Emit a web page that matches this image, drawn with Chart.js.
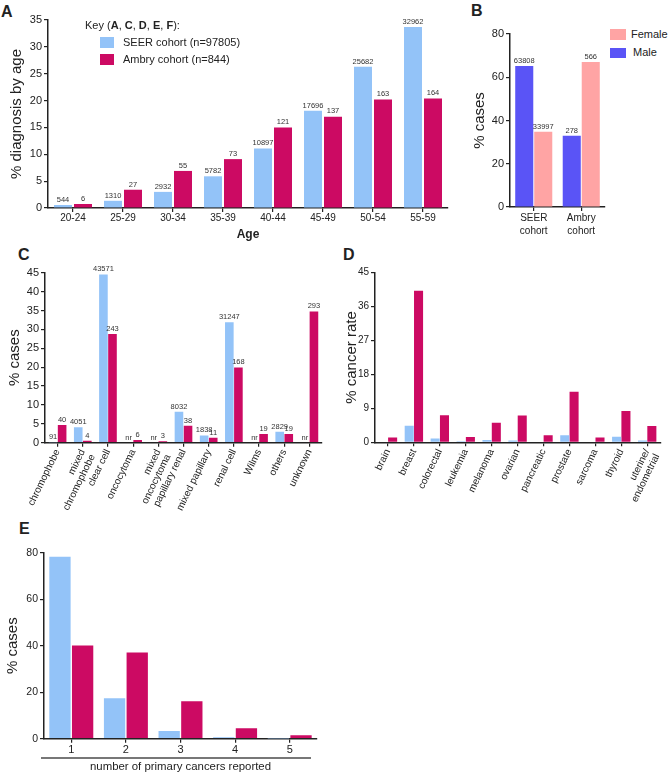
<!DOCTYPE html>
<html>
<head>
<meta charset="utf-8">
<script src="https://cdn.jsdelivr.net/npm/chart.js@4/dist/chart.umd.min.js"></script>
<style>
  body { margin: 0; background: #fff; }
  #fig { position: relative; width: 668px; height: 775px; font-family: 'Liberation Sans', Arial, sans-serif; color: #222; }
  #fig canvas { position: absolute; }
  .pl { position: absolute; font-weight: bold; font-size: 16px; line-height: 16px; }
  .key { position: absolute; font-size: 11px; line-height: 13px; display: flex; align-items: center; white-space: nowrap; }
  .sw { display: inline-block; margin-right: 9px; }
</style>
</head>
<body>
<div id="fig">
  <div class="pl" style="left:1px;top:4px">A</div>
  <div class="pl" style="left:471px;top:3px">B</div>
  <div class="pl" style="left:18px;top:247px">C</div>
  <div class="pl" style="left:343px;top:247px">D</div>
  <div class="pl" style="left:19px;top:521px">E</div>

  <canvas id="chartA" width="460" height="242" style="left:0;top:0"></canvas>
  <canvas id="chartB" width="140" height="245" style="left:470px;top:0"></canvas>
  <canvas id="chartC" width="330" height="265" style="left:0;top:250px"></canvas>
  <canvas id="chartD" width="328" height="265" style="left:340px;top:250px"></canvas>
  <canvas id="chartE" width="325" height="234" style="left:0;top:540px"></canvas>

  <div class="key" style="left:85px;top:19px"><span>Key (<b>A</b>, <b>C</b>, <b>D</b>, <b>E</b>, <b>F</b>):</span></div>
  <div class="key" style="left:100px;top:36px"><span class="sw" style="width:14px;height:11px;background:#93c3f8"></span>SEER cohort (n=97805)</div>
  <div class="key" style="left:100px;top:53px"><span class="sw" style="width:14px;height:11px;background:#cc0a63"></span>Ambry cohort (n=844)</div>

  <div class="key" style="left:610px;top:28px"><span class="sw" style="width:16px;height:11px;background:#ffa4a4;margin-right:5px"></span>Female</div>
  <div class="key" style="left:610px;top:46px"><span class="sw" style="width:16px;height:10px;background:#5a54f6;margin-right:7px"></span>Male</div>

  <div style="position:absolute;left:41px;top:757px;width:270px;height:1.5px;background:#777"></div>
</div>

<script>
// A: age at diagnosis
const ageGroups = ['20-24', '25-29', '30-34', '35-39', '40-44', '45-49', '50-54', '55-59'];
const seerAgePct = [0.56, 1.34, 3.0, 5.9, 11.1, 18.1, 26.3, 33.7];
const ambryAgePct = [0.75, 3.4, 6.9, 9.1, 15.0, 17.0, 20.2, 20.4];
const seerAgeN = [544, 1310, 2932, 5782, 10897, 17696, 25682, 32962];
const ambryAgeN = [6, 27, 55, 73, 121, 137, 163, 164];

// B: sex
const cohorts = [['SEER', 'cohort'], ['Ambry', 'cohort']];
const malePct = [65.2, 32.9];
const femalePct = [34.8, 67.1];
const maleN = [63808, 278];
const femaleN = [33997, 566];

// C: histology
const histologies = ['chromophobe', ['mixed', 'chromophobe'], 'clear cell', 'oncocytoma', ['mixed', 'oncocytoma'],
  'papillary renal', 'mixed papillary', 'renal cell', 'Wilms', 'others', 'unknown'];
const seerHistPct = [0.09, 4.1, 44.5, null, null, 8.2, 1.9, 31.9, null, 2.9, null];
const ambryHistPct = [4.7, 0.5, 28.8, 0.7, 0.4, 4.5, 1.3, 19.9, 2.3, 2.3, 34.7];
const seerHistN = ['91', '4051', '43571', 'nr', 'nr', '8032', '1838', '31247', 'nr', '2829', 'nr'];
const ambryHistN = ['40', '4', '243', '6', '3', '38', '11', '168', '19', '19', '293'];

// D: other cancers
const cancers = ['brain', 'breast', 'colorectal', 'leukemia', 'melanoma', 'ovarian', 'pancreatic',
  'prostate', 'sarcoma', 'thyroid', ['uterine/', 'endometrial']];
const seerCancerPct = [0, 4.4, 1.0, 0.3, 0.6, 0.5, 0, 1.9, 0, 1.5, 0.5];
const ambryCancerPct = [1.3, 40.2, 7.2, 1.4, 5.2, 7.1, 1.9, 13.4, 1.3, 8.3, 4.3];

// E: number of primary cancers
const primaryCounts = ['1', '2', '3', '4', '5'];
const seerPrimaryPct = [78.3, 17.4, 3.3, 0.6, 0.1];
const ambryPrimaryPct = [40.1, 37.1, 16.1, 4.5, 1.5];

const INK = '#222';
const BLUE = '#93c3f8';
const RED = '#cc0a63';

Chart.defaults.font.family = "'Liberation Sans', Arial, sans-serif";
Chart.defaults.color = INK;

// count labels over the bars ("nr" sits on the baseline)
const barLabels = {
  id: 'barLabels',
  afterDatasetsDraw(chart, args, opts) {
    const ctx = chart.ctx;
    const base = chart.scales.y.getPixelForValue(0);
    ctx.save();
    ctx.font = opts.size + "px 'Liberation Sans', Arial, sans-serif";
    ctx.fillStyle = '#333';
    ctx.textAlign = 'center';
    ctx.textBaseline = 'bottom';
    chart.data.datasets.forEach((ds, i) => {
      if (!ds.counts) return;
      chart.getDatasetMeta(i).data.forEach((bar, j) => {
        const v = ds.data[j];
        ctx.fillText(String(ds.counts[j]), bar.x, (v == null ? base : bar.y) - 1.5);
      });
    });
    ctx.restore();
  }
};

function yAxis(max, step, title, width, tickSize) {
  return {
    min: 0, max: max,
    ticks: { stepSize: step, font: { size: tickSize }, color: INK, padding: 2 },
    grid: { drawOnChartArea: false, tickLength: 4, color: INK, lineWidth: 1.2 },
    border: { color: INK, width: 1.5 },
    title: { display: true, text: title, font: { size: 15 }, color: INK, padding: 0 },
    afterFit(s) { s.width = width; }
  };
}

function xAxis(height, tickSize, rotation, pad, lineHeight, title) {
  return {
    offset: true,
    ticks: { font: { size: tickSize, lineHeight: lineHeight }, color: INK, autoSkip: false,
      minRotation: rotation, maxRotation: rotation, padding: pad },
    grid: { offset: false, drawOnChartArea: false, tickLength: 4, color: INK, lineWidth: 1.2 },
    border: { color: INK, width: 1.5 },
    title: title || { display: false },
    afterFit(s) { s.height = height; }
  };
}

function makeChart(id, labels, datasets, pad, scales, cp, bp, labelSize) {
  return new Chart(document.getElementById(id), {
    type: 'bar',
    data: {
      labels: labels,
      datasets: datasets.map(d => Object.assign({ categoryPercentage: cp, barPercentage: bp, borderWidth: 0 }, d))
    },
    options: {
      responsive: false,
      animation: false,
      layout: { padding: pad },
      scales: scales,
      plugins: {
        legend: { display: false },
        tooltip: { enabled: false },
        barLabels: { size: labelSize }
      }
    },
    plugins: [barLabels]
  });
}

makeChart('chartA', ageGroups, [
  { label: 'SEER cohort (n=97805)', data: seerAgePct, counts: seerAgeN, backgroundColor: BLUE },
  { label: 'Ambry cohort (n=844)', data: ambryAgePct, counts: ambryAgeN, backgroundColor: RED }
], { left: 8, top: 20, right: 12, bottom: 0 }, {
  x: xAxis(34, 10, 0, 0, 1.2, { display: true, text: 'Age', font: { size: 12, weight: 'bold' }, color: INK, padding: 0 }),
  y: yAxis(35, 5, '% diagnosis by age', 40, 11)
}, 0.8, 0.9, 7.5);

makeChart('chartB', cohorts, [
  { label: 'Male', data: malePct, counts: maleN, backgroundColor: '#5a54f6' },
  { label: 'Female', data: femalePct, counts: femaleN, backgroundColor: '#ffa4a4' }
], { left: 1, top: 34, right: 5, bottom: 0 }, {
  x: xAxis(38, 10, 0, 1, 1.3),
  y: yAxis(80, 20, '% cases', 39, 11)
}, 0.8, 0.95, 7.5);

makeChart('chartC', histologies, [
  { label: 'SEER', data: seerHistPct, counts: seerHistN, backgroundColor: BLUE },
  { label: 'Ambry', data: ambryHistPct, counts: ambryHistN, backgroundColor: RED }
], { left: 6, top: 22.7, right: 8, bottom: 0 }, {
  x: xAxis(72.3, 10, 64, 1, 1.1),
  y: yAxis(45, 5, '% cases', 39, 11)
}, 0.72, 0.95, 7.5);

makeChart('chartD', cancers, [
  { label: 'SEER', data: seerCancerPct, backgroundColor: BLUE },
  { label: 'Ambry', data: ambryCancerPct, backgroundColor: RED }
], { left: 3, top: 22.7, right: 1, bottom: 0 }, {
  x: xAxis(72.7, 10, 64, 1, 1.1),
  y: yAxis(45, 9, '% cancer rate', 32, 10)
}, 0.72, 0.97, 7.5);

makeChart('chartE', primaryCounts, [
  { label: 'SEER', data: seerPrimaryPct, backgroundColor: BLUE },
  { label: 'Ambry', data: ambryPrimaryPct, backgroundColor: RED }
], { left: 4, top: 12.7, right: 8, bottom: 0 }, {
  x: xAxis(35.3, 11, 0, 1, 1.2, { display: true, text: 'number of primary cancers reported', font: { size: 11.4 }, color: INK, padding: 0 }),
  y: yAxis(80, 20, '% cases', 40, 10.5)
}, 0.83, 0.94, 7.5);
</script>
</body>
</html>
